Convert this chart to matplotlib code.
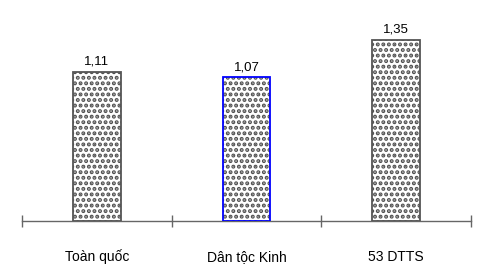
import matplotlib
matplotlib.use("Agg")
import matplotlib.pyplot as plt

categories = ["Toàn quốc", "Dân tộc Kinh", "53 DTTS"]
values = [1.11, 1.07, 1.35]
value_labels = ["1,11", "1,07", "1,35"]
edge_colors = ["#555555", "#0000FF", "#555555"]

plt.rcParams['font.family'] = ['Liberation Sans', 'DejaVu Sans']
plt.rcParams['hatch.color'] = '#505050'
plt.rcParams['hatch.linewidth'] = 2.0

fig = plt.figure(figsize=(4.95, 2.74), dpi=100)
ax = fig.add_axes([22/495, 53/274, 449/495, 0.736])

x = list(range(len(categories)))
ax.bar(x, values, width=0.32, color='white', hatch='...',
       edgecolor='#505050', linewidth=0, zorder=2)
bars = ax.bar(x, values, width=0.32, color='none',
              edgecolor=edge_colors, linewidth=1.3, zorder=3)
for b, lab in zip(bars, value_labels):
    ax.text(b.get_x() + b.get_width()/2, b.get_height() + 0.052, lab,
            ha='center', va='baseline', fontsize=9.5, color='black')

ax.set_xlim(-0.5, 2.5)
ax.set_ylim(0, 1.5)
for s in ['left', 'right', 'top']:
    ax.spines[s].set_visible(False)
ax.spines['bottom'].set_color('#666666')
ax.spines['bottom'].set_linewidth(1.0)
ax.set_yticks([])
ax.set_xticks([-0.5, 0.5, 1.5, 2.5])
ax.set_xticklabels([])
ax.tick_params(axis='x', direction='inout', length=8, color='#666666', width=1.0)
for xi, c in zip(x, categories):
    ax.text(xi, -0.297, c, ha='center', va='baseline', fontsize=10, color='black')

fig.savefig("out.png", dpi=100)
